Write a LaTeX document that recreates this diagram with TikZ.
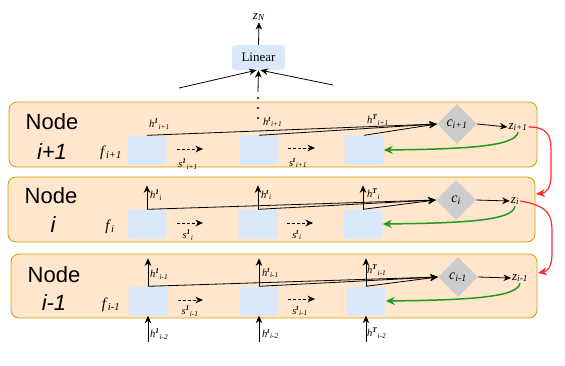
\documentclass[tikz,border=0pt]{standalone}
\usepackage{fontspec}
\setmainfont{Liberation Serif}
\newfontfamily\arialf{Liberation Sans}
\usetikzlibrary{arrows.meta,shapes.geometric}
\definecolor{panelfill}{HTML}{FFE6CC}
\definecolor{paneldraw}{HTML}{D79B00}
\definecolor{boxfill}{HTML}{DAE8FC}
\definecolor{diagray}{HTML}{CCCCCC}
\definecolor{grn}{HTML}{1E9A1E}
\definecolor{rd}{HTML}{FF2A2A}
\newcommand\lab[3]{\textit{#1}\textsuperscript{\textbf{\textit{#2}}}\textsubscript{\textit{#3}}}
\newcommand\sublab[2]{\textit{#1}\textsubscript{\textit{#2}}}
\begin{document}
\begin{tikzpicture}[x=1pt,y=-1pt,
 panel/.style={draw=paneldraw, fill=panelfill, rounded corners=8pt, line width=0.8pt, inner sep=0},
 bbox/.style={fill=boxfill, rounded corners=3pt, minimum width=39pt, minimum height=29pt, inner sep=0},
 dia/.style={diamond, fill=diagray, minimum width=40pt, minimum height=40pt, inner sep=0, font=\fontsize{14}{16}\selectfont},
 zl/.style={inner sep=1pt, font=\fontsize{13}{15}\selectfont},
 hl/.style={inner sep=0, anchor=west, font=\fontsize{10.5}{12}\selectfont},
 sl/.style={inner sep=0, font=\fontsize{10.5}{12}\selectfont},
 fl/.style={inner sep=0, font=\fontsize{15}{17}\selectfont},
 nodelbl/.style={inner sep=0, font=\arialf\fontsize{22}{24}\selectfont},
 arr/.style={-{Stealth[length=7.5pt,width=6.5pt]}, line width=0.8pt},
 darr/.style={arr, dash pattern=on 3pt off 2pt},
 garr/.style={-{Stealth[length=9pt,width=8pt]}, draw=grn, line width=1.5pt},
 rarr/.style={-{Stealth[length=9pt,width=8pt]}, draw=rd, line width=1.2pt},
 dotn/.style={circle, fill=black, inner sep=0, minimum size=2.4pt}
]
\useasboundingbox (0,0) rectangle (565,365);

% panels
\node[panel, minimum width=528pt, minimum height=65pt] (P1) at (273,134.5) {};
\node[panel, minimum width=527pt, minimum height=65pt] (P2) at (271.5,209.5) {};
\node[panel, minimum width=526pt, minimum height=64pt] (P3) at (274,286) {};

% node labels
\node[nodelbl] (n1a) at (52,122) {Node};
\node[nodelbl] (n1b) at (52,152) {\itshape i+1};
\node[nodelbl] (n2a) at (51,196) {Node};
\node[nodelbl] (n2b) at (53,225) {\itshape i};
\node[nodelbl] (n3a) at (54,275) {Node};
\node[nodelbl] (n3b) at (54,303) {\itshape i-1};

% f labels
\node[fl] (f1) at (111,153) {\sublab{f}{i+1}};
\node[fl] (f2) at (110,227) {\sublab{f}{i}};
\node[fl] (f3) at (111,305) {\sublab{f}{i-1}};

% boxes
\node[bbox] (b11) at (147,150) {};
\node[bbox] (b12) at (259,150) {};
\node[bbox] (b13) at (364,150) {};
\node[bbox] (b21) at (147,224) {};
\node[bbox] (b22) at (258,224) {};
\node[bbox] (b23) at (363,224) {};
\node[bbox] (b31) at (148,301) {};
\node[bbox] (b32) at (259,301) {};
\node[bbox] (b33) at (366,301) {};

% diamonds
\node[dia] (c1) at (457,124) {\sublab{c}{i+1}};
\node[dia] (c2) at (456,200) {\sublab{c}{i}};
\node[dia] (c3) at (458,277) {\sublab{c}{i-1}};

% z labels
\node[zl] (z1) at (518,127) {\sublab{z}{i+1}};
\node[zl] (z2) at (515,201) {\sublab{z}{i}};
\node[zl] (z3) at (520,278) {\sublab{z}{i-1}};

% lines to diamonds
\foreach \r in {1,2,3}{
  \foreach \k in {1,2,3}{
    \draw[arr] (b\r\k.north) -- (c\r.west);
  }
  \draw[arr] (c\r.east) -- (z\r.west);
}

% vertical h arrows
\foreach \k in {1,2,3}{
  \draw[arr] (b2\k.north) -- ++(0,-24);
  \draw[arr] (b3\k.north) -- ++(0,-28);
}
\coordinate (q1) at (148,342);
\coordinate (q2) at (259,342);
\coordinate (q3) at (366,342);
\draw[arr] (q1) -- (b31.south);
\draw[arr] (q2) -- (b32.south);
\draw[arr] (q3) -- (b33.south);

% h labels
\node[hl] (h11) at (149,124) {\lab{h}{1}{i+1}};
\node[hl] (h12) at (263,122) {\lab{h}{t}{i+1}};
\node[hl] (h13) at (367,120) {\lab{h}{T}{i+1}};
\node[hl] (h21) at (150,195) {\lab{h}{1}{i}};
\node[hl] (h22) at (261,195) {\lab{h}{t}{i}};
\node[hl] (h23) at (367,194) {\lab{h}{T}{i}};
\node[hl] (h31) at (150,274) {\lab{h}{1}{i-1}};
\node[hl] (h32) at (262,273) {\lab{h}{t}{i-1}};
\node[hl] (h33) at (367,270) {\lab{h}{T}{i-1}};
\node[hl] (h41) at (150,334) {\lab{h}{1}{i-2}};
\node[hl] (h42) at (262,334) {\lab{h}{t}{i-2}};
\node[hl] (h43) at (367,333) {\lab{h}{T}{i-2}};

% dashed s arrows
\coordinate (d11a) at (177,149); \coordinate (d11b) at (203,149);
\coordinate (d12a) at (288,148); \coordinate (d12b) at (315,148);
\coordinate (d21a) at (177,223); \coordinate (d21b) at (203,223);
\coordinate (d22a) at (287,223); \coordinate (d22b) at (313,223);
\coordinate (d31a) at (178,300); \coordinate (d31b) at (203,300);
\coordinate (d32a) at (288,299); \coordinate (d32b) at (315,299);
\foreach \r in {1,2,3}{\foreach \k in {1,2}{\draw[darr] (d\r\k a) -- (d\r\k b);}}
\node[sl] (s11) at (188,164) {\lab{s}{1}{i+1}};
\node[sl] (s12) at (298,163) {\lab{s}{t}{i+1}};
\node[sl] (s21) at (188,235) {\lab{s}{1}{i}};
\node[sl] (s22) at (297,235) {\lab{s}{t}{i}};
\node[sl] (s31) at (190,311) {\lab{s}{1}{i-1}};
\node[sl] (s32) at (300,311) {\lab{s}{t}{i-1}};

% green feedback
\draw[garr] (z1.south) .. controls (516,146) and (470,149) .. (b13.east);
\draw[garr] (z2.south) .. controls (513,220) and (470,223) .. (b23.east);
\draw[garr] (z3.south) .. controls (518,297) and (472,300) .. (b33.east);

% red links
\coordinate (r2) at (536,194);
\coordinate (r3) at (538,273);
\draw[rarr] (z1.east) .. controls (547,127) and (551,135) .. (551,150) -- (551,176) .. controls (551,188) and (546,193) .. (r2);
\draw[rarr] (z2.east) .. controls (549,206) and (552,215) .. (552,232) -- (552,254) .. controls (552,266) and (548,271) .. (r3);

% top
\node[fill=boxfill, rounded corners=3pt, minimum width=53pt, minimum height=25pt, inner sep=0, font=\fontsize{13}{15}\selectfont] (lin) at (258.5,57.5) {Linear};
\node[zl] (zN) at (259,17) {\sublab{z}{N}};
\draw[arr] (lin.north) -- (zN.south);
\coordinate (t1) at (179,88);
\coordinate (t2) at (333,85);
\coordinate (t3) at (258,92);
\draw[arr] (t1) -- ([xshift=-2pt]lin.south);
\draw[arr] (t2) -- ([xshift=2pt]lin.south);
\draw[arr] (t3) -- (lin.south);
\node[dotn] (dt1) at (258,98) {};
\node[dotn] (dt2) at (258,108) {};
\node[dotn] (dt3) at (258,118) {};
\end{tikzpicture}
\end{document}
